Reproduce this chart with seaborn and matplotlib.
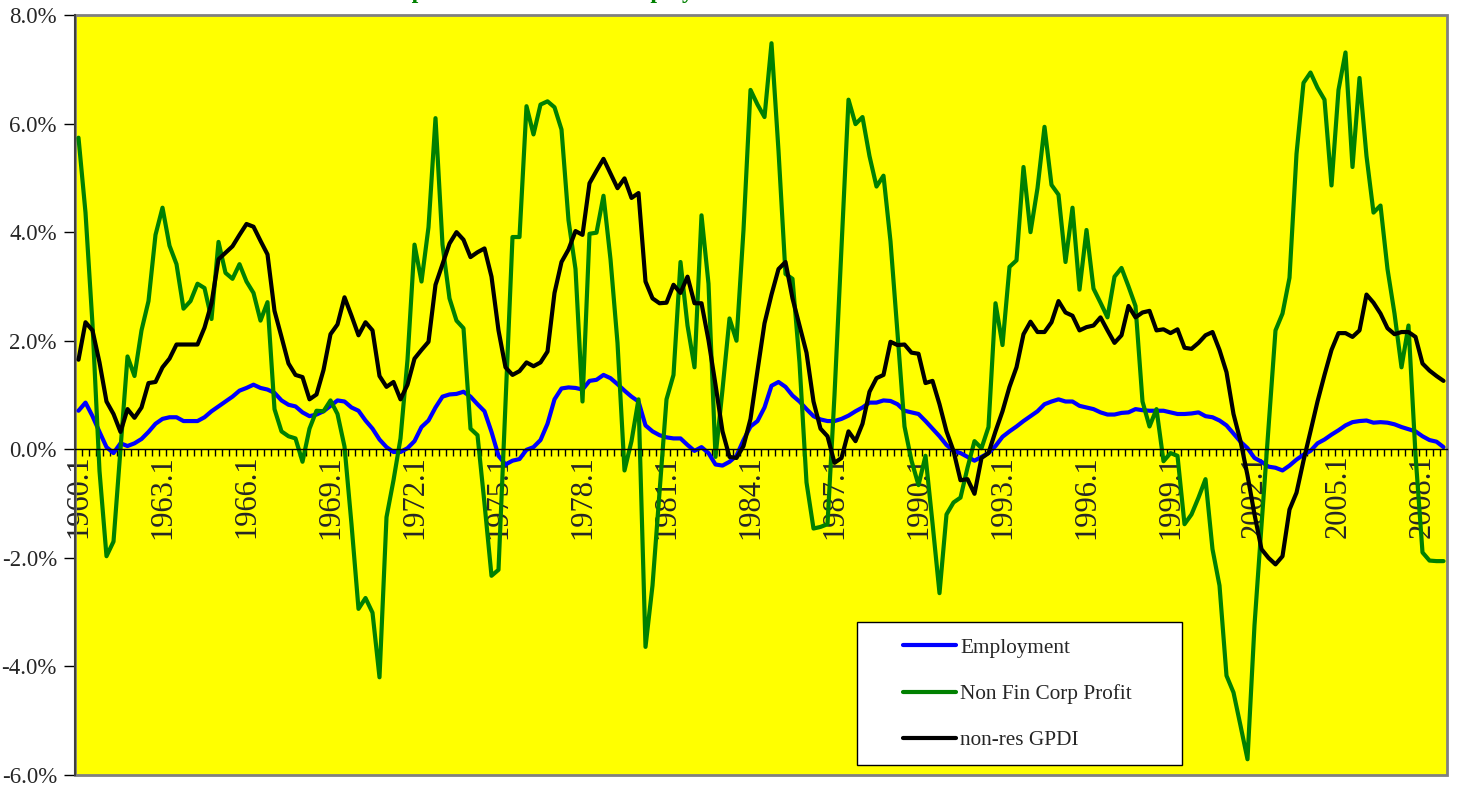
import numpy as np
import pandas as pd
import matplotlib
matplotlib.use("Agg")
import matplotlib.pyplot as plt
from matplotlib.patches import Rectangle
from matplotlib.lines import Line2D
from matplotlib.ticker import FuncFormatter
import seaborn as sns

# Quarterly categories 1960.1 .. 2008.4
quarters = [f"{y}.{q}" for y in range(1960, 2009) for q in range(1, 5)]
tick_labels = quarters[::12]

# Year-over-year growth rates (%)
employment = [
    0.71, 0.86, 0.61, 0.32, 0.04, -0.07, 0.11, 0.06, 0.11, 0.19,
    0.32, 0.47, 0.56, 0.59, 0.59, 0.52, 0.52, 0.52, 0.59, 0.70,
    0.79, 0.88, 0.97, 1.08, 1.13, 1.19, 1.13, 1.10, 1.04, 0.90,
    0.82, 0.79, 0.68, 0.61, 0.64, 0.70, 0.80, 0.90, 0.88, 0.77,
    0.71, 0.53, 0.38, 0.18, 0.04, -0.05, -0.05, 0.02, 0.15, 0.41,
    0.53, 0.77, 0.97, 1.01, 1.02, 1.06, 0.97, 0.83, 0.70, 0.32,
    -0.12, -0.28, -0.21, -0.18, -0.01, 0.04, 0.17, 0.47, 0.92, 1.12,
    1.14, 1.13, 1.10, 1.26, 1.28, 1.37, 1.31, 1.20, 1.08, 0.97,
    0.88, 0.44, 0.33, 0.26, 0.22, 0.20, 0.20, 0.08, -0.03, 0.04,
    -0.07, -0.28, -0.30, -0.23, -0.12, 0.17, 0.42, 0.52, 0.77, 1.17,
    1.24, 1.15, 0.99, 0.88, 0.74, 0.61, 0.55, 0.52, 0.52, 0.56,
    0.62, 0.70, 0.77, 0.86, 0.86, 0.90, 0.89, 0.83, 0.71, 0.68,
    0.65, 0.52, 0.38, 0.24, 0.08, -0.03, -0.07, -0.14, -0.21, -0.14,
    -0.07, 0.06, 0.23, 0.33, 0.42, 0.52, 0.61, 0.70, 0.83, 0.88,
    0.92, 0.88, 0.88, 0.80, 0.77, 0.74, 0.68, 0.64, 0.64, 0.67,
    0.68, 0.74, 0.72, 0.71, 0.71, 0.71, 0.68, 0.65, 0.65, 0.66,
    0.68, 0.61, 0.59, 0.53, 0.44, 0.29, 0.14, 0.02, -0.16, -0.23,
    -0.32, -0.34, -0.39, -0.30, -0.19, -0.10, -0.03, 0.11, 0.18, 0.27,
    0.35, 0.44, 0.50, 0.52, 0.53, 0.49, 0.50, 0.49, 0.46, 0.41,
    0.37, 0.33, 0.24, 0.17, 0.14, 0.04,
]

corp_profit = [
    5.74, 4.36, 2.30, -0.40, -1.97, -1.70, 0.00, 1.71, 1.35, 2.19,
    2.73, 3.95, 4.45, 3.75, 3.41, 2.59, 2.73, 3.05, 2.97, 2.40,
    3.82, 3.25, 3.14, 3.41, 3.09, 2.88, 2.37, 2.71, 0.74, 0.33,
    0.24, 0.20, -0.23, 0.38, 0.71, 0.70, 0.90, 0.65, 0.05, -1.38,
    -2.94, -2.74, -3.01, -4.20, -1.25, -0.57, 0.20, 1.65, 3.77, 3.09,
    4.09, 6.10, 3.77, 2.78, 2.37, 2.23, 0.38, 0.26, -1.00, -2.33,
    -2.22, 0.85, 3.91, 3.91, 6.32, 5.80, 6.35, 6.41, 6.30, 5.89,
    4.22, 3.32, 0.88, 3.97, 3.99, 4.67, 3.50, 1.96, -0.39, 0.15,
    0.92, -3.64, -2.51, -0.80, 0.92, 1.37, 3.45, 2.28, 1.51, 4.31,
    3.05, -0.14, 1.10, 2.41, 2.00, 4.04, 6.62, 6.35, 6.12, 7.48,
    5.50, 3.23, 3.14, 1.60, -0.61, -1.46, -1.43, -1.38, 1.00, 3.70,
    6.44, 5.99, 6.12, 5.40, 4.84, 5.04, 3.83, 2.14, 0.42, -0.21,
    -0.66, -0.12, -1.36, -2.65, -1.20, -0.98, -0.89, -0.34, 0.15, 0.02,
    0.41, 2.69, 1.92, 3.36, 3.48, 5.20, 4.00, 4.81, 5.94, 4.87,
    4.69, 3.45, 4.45, 2.94, 4.04, 2.96, 2.70, 2.43, 3.18, 3.34,
    3.00, 2.64, 0.88, 0.42, 0.74, -0.22, -0.07, -0.12, -1.38, -1.20,
    -0.89, -0.55, -1.84, -2.51, -4.17, -4.48, -5.09, -5.71, -3.24, -1.40,
    0.40, 2.19, 2.50, 3.16, 5.44, 6.75, 6.94, 6.66, 6.44, 4.86,
    6.62, 7.31, 5.20, 6.84, 5.40, 4.36, 4.49, 3.32, 2.50, 1.51,
    2.28, -0.10, -1.90, -2.05, -2.06, -2.06,
]

nonres_gpdi = [
    1.65, 2.34, 2.19, 1.60, 0.88, 0.65, 0.32, 0.74, 0.58, 0.77,
    1.22, 1.24, 1.51, 1.67, 1.93, 1.93, 1.93, 1.93, 2.24, 2.69,
    3.50, 3.62, 3.74, 3.95, 4.15, 4.10, 3.84, 3.59, 2.55, 2.07,
    1.58, 1.37, 1.33, 0.92, 1.01, 1.46, 2.12, 2.30, 2.80, 2.46,
    2.10, 2.34, 2.19, 1.35, 1.15, 1.24, 0.92, 1.19, 1.67, 1.83,
    1.98, 3.03, 3.41, 3.79, 4.00, 3.86, 3.54, 3.63, 3.70, 3.18,
    2.19, 1.51, 1.37, 1.44, 1.60, 1.53, 1.60, 1.80, 2.88, 3.45,
    3.68, 4.02, 3.95, 4.90, 5.13, 5.35, 5.08, 4.81, 4.99, 4.63,
    4.72, 3.09, 2.78, 2.69, 2.70, 3.03, 2.88, 3.18, 2.69, 2.69,
    2.01, 1.19, 0.33, -0.14, -0.16, 0.06, 0.56, 1.45, 2.32, 2.85,
    3.32, 3.45, 2.78, 2.28, 1.78, 0.88, 0.38, 0.24, -0.25, -0.16,
    0.33, 0.15, 0.47, 1.06, 1.31, 1.37, 1.98, 1.92, 1.93, 1.78,
    1.76, 1.22, 1.26, 0.83, 0.33, -0.03, -0.57, -0.55, -0.82, -0.16,
    -0.07, 0.33, 0.70, 1.15, 1.51, 2.12, 2.35, 2.16, 2.16, 2.34,
    2.73, 2.52, 2.46, 2.19, 2.25, 2.28, 2.43, 2.19, 1.96, 2.10,
    2.64, 2.43, 2.52, 2.55, 2.19, 2.21, 2.14, 2.21, 1.87, 1.85,
    1.96, 2.10, 2.16, 1.83, 1.42, 0.65, 0.15, -0.48, -1.20, -1.84,
    -2.00, -2.12, -1.97, -1.11, -0.80, -0.21, 0.33, 0.88, 1.37, 1.83,
    2.14, 2.14, 2.07, 2.19, 2.85, 2.70, 2.50, 2.23, 2.12, 2.16,
    2.16, 2.07, 1.58, 1.45, 1.35, 1.26,
]

series_names = ["Employment", "Non Fin Corp Profit", "non-res GPDI"]
series_values = [employment, corp_profit, nonres_gpdi]
series_colors = ["#0000FF", "#008000", "#000000"]

rows = []
for name, vals in zip(series_names, series_values):
    for pos, (q, v) in enumerate(zip(quarters, vals)):
        rows.append({"pos": pos, "quarter": q, "growth": v, "series": name})
df = pd.DataFrame(rows)

sns.set_style("white")
plt.rcParams["font.family"] = ["Liberation Serif", "DejaVu Serif"]

W, H = 1457, 787
fig = plt.figure(figsize=(W / 100, H / 100), dpi=100)
fig.patch.set_facecolor("white")
ax = fig.add_axes([75 / W, 12 / H, 1372 / W, 760 / H])
ax.set_facecolor("#FFFF00")

sns.lineplot(
    data=df, x="pos", y="growth", hue="series", hue_order=series_names,
    palette=dict(zip(series_names, series_colors)), linewidth=3.0,
    sort=False, legend=False, ax=ax,
)
for ln in ax.get_lines():
    ln.set_solid_joinstyle("round")
    ln.set_solid_capstyle("round")

ax.set_xlim(-0.5, len(quarters) - 0.5)
ax.set_ylim(-6, 8)
ax.set_xlabel("")
ax.set_ylabel("")

# category axis crossing at zero (position first: it resets the ticks)
ax.spines["bottom"].set_position(("data", 0))
ax.spines["bottom"].set_color("black")
ax.spines["bottom"].set_linewidth(1)
ax.set_xticks(range(0, len(quarters), 12))
ax.set_xticklabels(tick_labels, rotation=90, fontsize=22)
ax.set_xticks(np.arange(-0.5, len(quarters), 1), minor=True)
ax.tick_params(axis="x", which="major", length=0, pad=4, bottom=True)
ax.tick_params(axis="x", which="minor", length=5, width=1, color="black",
               direction="out", bottom=True)

ax.set_yticks(np.arange(-6, 8.01, 2))
ax.yaxis.set_major_formatter(FuncFormatter(lambda v, _: f"{v:.1f}%"))
ax.tick_params(axis="y", length=8, width=1, color="black", direction="out",
               pad=5, labelsize=16.5, left=True)

ax.spines["top"].set_visible(False)
ax.spines["right"].set_visible(False)
ax.spines["left"].set_color("#404040")
ax.spines["left"].set_linewidth(1.5)
ax.add_patch(Rectangle((0, 0), 1, 1, transform=ax.transAxes, fill=False,
                       edgecolor="#808080", linewidth=2, clip_on=False, zorder=1))

# legend box
ax.add_patch(Rectangle((857 / W, 1 - 765 / H), 325 / W, 143 / H,
                       transform=fig.transFigure, facecolor="white",
                       edgecolor="black", linewidth=1, clip_on=False, zorder=4))
handles = [Line2D([], [], color=c, linewidth=3.0, solid_capstyle="round")
           for c in series_colors]
leg = ax.legend(handles, series_names, loc="upper left",
                bbox_to_anchor=(903 / W, 1 - 638 / H), bbox_transform=fig.transFigure,
                frameon=False, borderpad=0, borderaxespad=0, handlelength=2.5,
                handletextpad=0.2, labelspacing=1.24, fontsize=15.3)
leg.set_zorder(5)

# chart title (runs off the top edge)
fig.text(302 / W, 1 + 2 / H, "Growth of profits and GPDI vs employment",
         color="#008000", fontweight="bold", fontsize=17, ha="left", va="baseline")

fig.savefig("out.png", dpi=100)
